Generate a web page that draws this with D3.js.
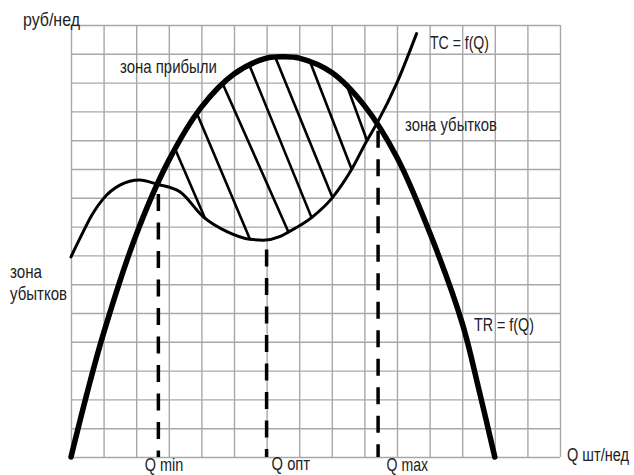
<!DOCTYPE html>
<html>
<head>
<meta charset="utf-8">
<script src="https://cdn.jsdelivr.net/npm/d3@7"></script>
<style>
  html, body { margin: 0; padding: 0; background: #fff; }
  svg { display: block; }
  text { font-family: "Liberation Sans", Arial, sans-serif; font-size: 18px; fill: #222; }
</style>
</head>
<body>
<svg id="chart" width="634" height="475"></svg>
<script>
// Total revenue TR = f(Q), in grid units
const trQ = [0, 0.5, 1, 2, 3, 4, 5, 6, 6.5, 7, 8, 9, 10, 11, 12, 12.5, 13];
const trV = [0, 2.25, 4.3, 7.72, 10.3, 12.15, 13.3, 13.85, 13.9, 13.85, 13.35, 12.2, 10.4, 7.8, 4.65, 2.4, 0];

// Total cost TC = f(Q), in grid units
const tcQ = [0, 0.3, 0.65, 1.0, 1.5, 2.1, 2.65, 3.35, 4.05, 4.8, 5.5, 5.9, 6.4, 6.65, 7.4, 8.0, 8.6, 9.05, 9.4, 10.0, 10.6];
const tcV = [6.95, 7.65, 8.42, 8.98, 9.44, 9.62, 9.47, 9.2, 8.35, 7.82, 7.56, 7.53, 7.65, 7.8, 8.33, 8.98, 9.97, 10.93, 11.62, 13.0, 14.7];

// Hatching of the profit zone: each stroke runs from TR down to TC
const hatchFromQ = [3.19, 3.86, 4.65, 5.47, 6.26, 7.33, 8.46];
const hatchToQ   = [4.11, 5.49, 6.67, 7.38, 8.02, 8.61, 9.08];

// Key output levels
const markQ = [2.68, 6.0, 9.42];
const markLabels = ["Q min", "Q опт", "Q max"];

// Grid lines
const gridTicks = d3.range(0, 16);

const svg = d3.select("#chart");
const x = d3.scaleLinear().domain([0, 15]).range([71, 560]);
const y = d3.scaleLinear().domain([0, 15]).range([457, 25]);

// ---- grid ----
const gridColor = "#a8a8a8";
const gx = svg.append("g")
  .attr("transform", `translate(0,${y(0)})`)
  .call(d3.axisBottom(x).tickValues(gridTicks).tickFormat("")
    .tickSize(-(y(0) - y(15))).tickSizeOuter(0));
const gy = svg.append("g")
  .attr("transform", `translate(${x(0)},0)`)
  .call(d3.axisLeft(y).tickValues(gridTicks).tickFormat("")
    .tickSize(-(x(15) - x(0))).tickSizeOuter(0));
[gx, gy].forEach(g => {
  g.select(".domain").remove();
  g.selectAll(".tick line").attr("stroke", gridColor).attr("stroke-width", 1.4);
});

// ---- curves ----
const trLine = d3.line()
  .x(d => x(d[0]))
  .y(d => y(d[1]))
  .curve(d3.curveCatmullRom.alpha(0.5));
const tcLine = d3.line()
  .x(d => x(d[0]))
  .y(d => y(d[1]))
  .curve(d3.curveMonotoneX);

const trData = trQ.map((q, i) => [q, trV[i]]);
const tcData = tcQ.map((q, i) => [q, tcV[i]]);

const hatchLayer = svg.append("g");
const markLayer = svg.append("g");

const tcPath = svg.append("path")
  .attr("d", tcLine(tcData))
  .attr("fill", "none")
  .attr("stroke", "#000")
  .attr("stroke-width", 3)
  .attr("stroke-linecap", "round");

const trPath = svg.append("path")
  .attr("d", trLine(trData))
  .attr("fill", "none")
  .attr("stroke", "#000")
  .attr("stroke-width", 5.5)
  .attr("stroke-linecap", "round");

// y-pixel of a path at a given pixel x (paths are monotone in x)
function yOnPath(node, px) {
  let lo = 0, hi = node.getTotalLength();
  for (let k = 0; k < 40; k++) {
    const mid = (lo + hi) / 2;
    if (node.getPointAtLength(mid).x < px) lo = mid; else hi = mid;
  }
  return node.getPointAtLength((lo + hi) / 2).y;
}

// ---- hatching ----
hatchLayer.selectAll("line")
  .data(hatchFromQ.map((q, i) => ({ q0: q, q1: hatchToQ[i] })))
  .join("line")
  .attr("x1", d => x(d.q0))
  .attr("y1", d => yOnPath(trPath.node(), x(d.q0)))
  .attr("x2", d => x(d.q1))
  .attr("y2", d => yOnPath(tcPath.node(), x(d.q1)))
  .attr("stroke", "#000")
  .attr("stroke-width", 2.6)
  .attr("stroke-linecap", "round");

// ---- dashed verticals at Q min / Q опт / Q max ----
markLayer.selectAll("line")
  .data(markQ)
  .join("line")
  .attr("x1", d => x(d))
  .attr("x2", d => x(d))
  .attr("y1", d => yOnPath(tcPath.node(), x(d)))
  .attr("y2", y(0))
  .attr("stroke", "#000")
  .attr("stroke-width", 3.5)
  .attr("stroke-dasharray", "17 11.5")
  .attr("stroke-dashoffset", 19);

// ---- text (condensed horizontally to the given width) ----
function label(txt, px, py, w) {
  const t = svg.append("text").attr("x", 0).attr("y", 0).text(txt);
  const natural = t.node().getComputedTextLength();
  t.attr("transform", `translate(${px},${py}) scale(${w / natural},1)`);
}

label("руб/нед", 23, 25.5, 57);
label("зона прибыли", 120, 72.5, 97);
label("TC = f(Q)", 430, 48.5, 59);
label("зона убытков", 405, 131, 92);
label("зона", 10, 277.5, 32);
label("убытков", 10, 300, 57);
label("TR = f(Q)", 474, 330.5, 60);
label("Q шт/нед", 567, 461, 62);

const markLabelDx = [-13.5, 5, 8.5];
const markLabelY = [470.5, 469.5, 471];
const markLabelW = [38.5, 38.5, 41.5];
markLabels.forEach((t, i) => label(t, x(markQ[i]) + markLabelDx[i], markLabelY[i], markLabelW[i]));
</script>
</body>
</html>
